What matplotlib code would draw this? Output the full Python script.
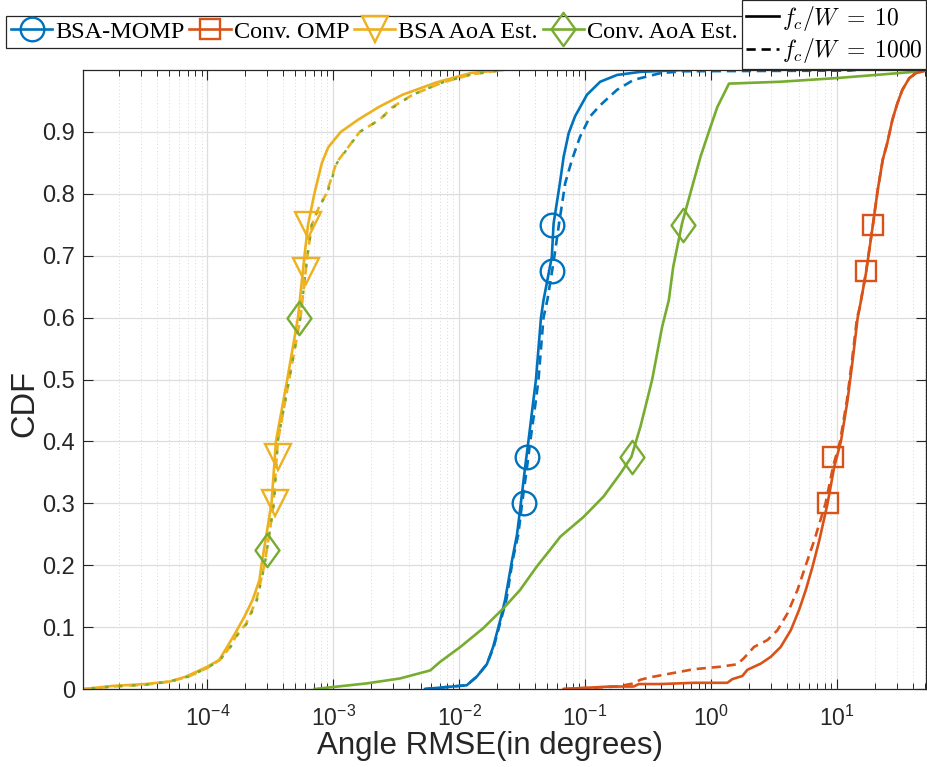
import numpy as np
import matplotlib
matplotlib.use("Agg")
import matplotlib.pyplot as plt
from matplotlib.path import Path
from matplotlib.lines import Line2D
from matplotlib.font_manager import FontProperties
from matplotlib.ticker import FixedLocator, LogLocator, NullFormatter, FixedFormatter

plt.rcParams['font.family'] = ['Liberation Sans', 'DejaVu Sans']
plt.rcParams['mathtext.fontset'] = 'custom'
plt.rcParams['mathtext.rm'] = 'Liberation Sans'
plt.rcParams['mathtext.it'] = 'Liberation Sans:italic'

# ---------------- data (x given as log10 of RMSE in degrees) ----------------
# BSA-MOMP, fc/W = 10 (solid) and 1000 (dashed)
momp10_log = [-2.27, -2.0, -1.94, -1.86, -1.78, -1.73, -1.675, -1.635, -1.58, -1.54, -1.51, -1.475, -1.45, -1.41,
              -1.39, -1.35, -1.33, -1.264, -1.25, -1.20, -1.17, -1.13, -1.08, -0.985, -0.88, -0.746, -0.56, -0.22]
momp10_cdf = [0.0, 0.005, 0.006, 0.02, 0.04, 0.068, 0.11, 0.144, 0.208, 0.25, 0.30, 0.36, 0.40, 0.467,
              0.50, 0.60, 0.628, 0.698, 0.752, 0.817, 0.86, 0.898, 0.925, 0.96, 0.981, 0.992, 0.997, 1.0]
momp1000_log = [-2.27, -2.0, -1.94, -1.86, -1.78, -1.725, -1.67, -1.625, -1.575, -1.53, -1.50, -1.46, -1.435, -1.39,
                -1.37, -1.33, -1.30, -1.25, -1.21, -1.158, -1.104, -1.04, -0.96, -0.88, -0.746, -0.615, -0.40, -0.22,
                1.10, 1.15]
momp1000_cdf = [0.0, 0.005, 0.006, 0.02, 0.04, 0.068, 0.11, 0.144, 0.208, 0.25, 0.30, 0.36, 0.40, 0.467,
                0.50, 0.60, 0.628, 0.69, 0.747, 0.817, 0.855, 0.892, 0.925, 0.943, 0.968, 0.984, 0.995, 0.998,
                0.999, 1.0]

# Conv. OMP
omp10_log = [-1.17, -0.80, -0.614, -0.574, -0.40, -0.136, 0.13, 0.17, 0.249, 0.289, 0.395, 0.475, 0.554, 0.634,
             0.70, 0.753, 0.807, 0.86, 0.926, 0.979, 1.032, 1.085, 1.125, 1.165, 1.18, 1.231, 1.284, 1.324, 1.364,
             1.40, 1.44, 1.48, 1.52, 1.575, 1.63, 1.72]
omp10_cdf = [0.0, 0.004, 0.004, 0.008, 0.008, 0.01, 0.01, 0.016, 0.021, 0.031, 0.041, 0.052, 0.068, 0.095,
             0.128, 0.16, 0.198, 0.24, 0.30, 0.359, 0.40, 0.467, 0.531, 0.60, 0.615, 0.672, 0.747, 0.806, 0.855,
             0.882, 0.919, 0.946, 0.968, 0.987, 0.995, 1.0]
omp1000_log = [-1.17, -0.746, -0.614, -0.56, -0.48, -0.348, -0.136, 0.076, 0.21, 0.262, 0.342, 0.448, 0.528, 0.607,
               0.687, 0.753, 0.82, 0.91, 0.97, 1.025, 1.08, 1.12, 1.16, 1.18, 1.23, 1.284, 1.324, 1.364, 1.40,
               1.44, 1.48, 1.52, 1.575, 1.63, 1.72]
omp1000_cdf = [0.0, 0.004, 0.009, 0.015, 0.019, 0.024, 0.032, 0.036, 0.04, 0.05, 0.068, 0.079, 0.095, 0.122,
               0.16, 0.20, 0.24, 0.30, 0.36, 0.40, 0.467, 0.531, 0.60, 0.615, 0.672, 0.747, 0.806, 0.855, 0.882,
               0.919, 0.946, 0.968, 0.987, 0.995, 1.0]

# BSA AoA Est.
bsa10_log = [-4.98, -4.75, -4.49, -4.30, -4.17, -4.00, -3.905, -3.825, -3.77, -3.705, -3.64, -3.586, -3.57, -3.55,
             -3.49, -3.455, -3.365, -3.28, -3.228, -3.20, -3.15, -3.09, -3.04, -2.94, -2.80, -2.64, -2.45,
             -2.18, -1.91, -1.65]
bsa10_cdf = [0.0, 0.005, 0.008, 0.012, 0.02, 0.036, 0.047, 0.074, 0.093, 0.117, 0.144, 0.176, 0.20, 0.225,
             0.30, 0.40, 0.50, 0.60, 0.70, 0.75, 0.80, 0.85, 0.875, 0.90, 0.92, 0.94, 0.96, 0.98, 0.995, 1.0]
bsa1000_log = [-4.98, -4.75, -4.49, -4.30, -4.15, -4.00, -3.90, -3.82, -3.77, -3.69, -3.61, -3.547, -3.50, -3.475,
               -3.44, -3.35, -3.26, -3.205, -3.17, -3.11, -3.055, -2.975, -2.79, -2.63, -2.53, -2.37, -2.13, -1.90,
               -1.65]
bsa1000_cdf = [0.0, 0.004, 0.007, 0.012, 0.02, 0.034, 0.047, 0.068, 0.086, 0.106, 0.144, 0.20, 0.26, 0.30,
               0.40, 0.50, 0.60, 0.70, 0.75, 0.78, 0.80, 0.85, 0.90, 0.92, 0.94, 0.96, 0.98, 0.993, 1.0]

# Conv. AoA Est.
conv10_log = [-3.148, -2.736, -2.47, -2.23, -2.15, -1.99, -1.81, -1.65, -1.516, -1.383, -1.277, -1.197, -1.012,
              -0.853, -0.72, -0.632, -0.56, -0.507, -0.467, -0.428, -0.388, -0.335, -0.30, -0.23, -0.15, -0.083,
              -0.004, 0.05, 0.143, 0.55, 1.0, 1.615, 1.71]
conv10_cdf = [0.0, 0.009, 0.017, 0.03, 0.044, 0.068, 0.098, 0.13, 0.16, 0.198, 0.225, 0.246, 0.278,
              0.311, 0.348, 0.375, 0.424, 0.467, 0.50, 0.542, 0.585, 0.628, 0.682, 0.752, 0.811, 0.86,
              0.908, 0.94, 0.978, 0.981, 0.987, 0.997, 1.0]
conv1000_log = [-4.98, -4.75, -4.49, -4.30, -4.15, -4.00, -3.90, -3.815, -3.765, -3.685, -3.605, -3.545, -3.50,
                -3.47, -3.44, -3.35, -3.26, -3.205, -3.17, -3.11, -3.05, -2.97, -2.79, -2.63, -2.52, -2.37, -2.13,
                -1.90, -1.65]
conv1000_cdf = [0.0, 0.004, 0.007, 0.012, 0.02, 0.034, 0.047, 0.068, 0.086, 0.106, 0.144, 0.20, 0.26, 0.30,
                0.40, 0.50, 0.60, 0.70, 0.75, 0.78, 0.80, 0.85, 0.90, 0.92, 0.94, 0.96, 0.98, 0.993, 1.0]

# marker positions
momp_mk_log = [-1.484, -1.460, -1.261, -1.261]
momp_mk_cdf = [0.30, 0.375, 0.675, 0.75]
omp_mk_log = [0.928, 0.968, 1.231, 1.287]
omp_mk_cdf = [0.30, 0.375, 0.675, 0.75]
bsa_mk_log = [-3.459, -3.435, -3.22, -3.204]
bsa_mk_cdf = [0.30, 0.375, 0.675, 0.75]
conv_mk_log = [-3.522, -3.268, -0.624, -0.226]
conv_mk_cdf = [0.225, 0.60, 0.375, 0.75]

legend_labels = ['BSA-MOMP', 'Conv. OMP', 'BSA AoA Est.', 'Conv. AoA Est.']
fcw_labels = [r'$f_c/W\;=\;10$', r'$f_c/W\;=\;1000$']
xtick_exps = [-4, -3, -2, -1, 0, 1]
ytick_vals = [0, 0.1, 0.2, 0.3, 0.4, 0.5, 0.6, 0.7, 0.8, 0.9]

# ---------------- style ----------------
BLUE = '#0072BD'
ORANGE = '#D95319'
YELLOW = '#EDB120'
GREEN = '#77AC30'
LW = 1.9
DASH = (0, (3.5, 2.2))
diamond = Path([(0, 1), (0.72, 0), (0, -1), (-0.72, 0), (0, 1)],
               [Path.MOVETO, Path.LINETO, Path.LINETO, Path.LINETO, Path.CLOSEPOLY])

fig = plt.figure(figsize=(9.28, 7.67), dpi=100)
ax = fig.add_axes([83 / 928, 1 - 689 / 767, (926 - 83) / 928, (689 - 70) / 767])


def p10(a):
    return np.power(10.0, np.asarray(a))


ax.plot(p10(bsa10_log), bsa10_cdf, color=YELLOW, lw=LW, ls='-')
ax.plot(p10(bsa1000_log), bsa1000_cdf, color=YELLOW, lw=LW, ls=DASH)
ax.plot(p10(conv1000_log), conv1000_cdf, color=GREEN, lw=LW * 0.9, ls=(2.5, (1.5, 4.2)))
ax.plot(p10(momp10_log), momp10_cdf, color=BLUE, lw=LW, ls='-')
ax.plot(p10(momp1000_log), momp1000_cdf, color=BLUE, lw=LW, ls=DASH)
ax.plot(p10(conv10_log), conv10_cdf, color=GREEN, lw=LW, ls='-')
ax.plot(p10(omp10_log), omp10_cdf, color=ORANGE, lw=LW, ls='-')
ax.plot(p10(omp1000_log), omp1000_cdf, color=ORANGE, lw=LW, ls=DASH)

mk_kw = dict(ls='none', mfc='none', mew=1.7)
ax.plot(p10(momp_mk_log), momp_mk_cdf, marker='o', ms=17, mec=BLUE, **mk_kw)
ax.plot(p10(omp_mk_log), omp_mk_cdf, marker='s', ms=14.5, mec=ORANGE, **mk_kw)
ax.plot(p10(bsa_mk_log), bsa_mk_cdf, marker='v', ms=19, mec=YELLOW, **mk_kw)
ax.plot(p10(conv_mk_log), conv_mk_cdf, marker=diamond, ms=24, mec=GREEN, **mk_kw)

ax.set_xscale('log')
ax.set_xlim(1.03e-5, 51)
ax.set_ylim(0, 1.0)

ax.xaxis.set_major_locator(FixedLocator([10.0 ** e for e in xtick_exps]))
ax.xaxis.set_major_formatter(FixedFormatter([r'$\mathregular{10^{%d}}$' % e for e in xtick_exps]))
ax.xaxis.set_minor_locator(LogLocator(base=10, subs=np.arange(2, 10), numticks=20))
ax.xaxis.set_minor_formatter(NullFormatter())
ax.set_yticks(ytick_vals)
ax.set_yticklabels(['0' if v == 0 else '%.1f' % v for v in ytick_vals])

ax.grid(True, which='major', color='#dedede', lw=0.9, ls='-')
ax.grid(True, which='minor', axis='x', color='#d8d8d8', lw=0.7, ls=(0, (1, 2.5)))
ax.set_axisbelow(True)
ax.tick_params(which='both', direction='in', top=True, right=True, colors='#262626')
ax.tick_params(axis='y', labelsize=17, pad=5.5)
ax.tick_params(axis='x', labelsize=16.5, pad=12)
ax.tick_params(which='major', length=7, width=0.8)
ax.tick_params(which='minor', length=4, width=0.7)
for s in ax.spines.values():
    s.set_color('#262626')
    s.set_linewidth(0.9)

ax.set_xlabel('Angle RMSE(in degrees)', fontsize=22.5, color='#262626', labelpad=0)
ax.xaxis.set_label_coords(0.483, -0.068)
ax.set_ylabel('CDF', fontsize=23.5, color='#262626')
ax.yaxis.set_label_coords(-0.051, 0.462)

# legend 1 (methods)
handles = [
    Line2D([], [], color=BLUE, lw=LW, marker='o', ms=17, mfc='none', mew=1.7),
    Line2D([], [], color=ORANGE, lw=LW, marker='s', ms=14.5, mfc='none', mew=1.7),
    Line2D([], [], color=YELLOW, lw=LW, marker='v', ms=19, mfc='none', mew=1.7),
    Line2D([], [], color=GREEN, lw=LW, marker=diamond, ms=24, mfc='none', mew=1.7),
]
leg1 = fig.legend(handles, legend_labels, loc='upper left', bbox_to_anchor=(6 / 928, 1 - 16 / 767),
                  ncol=4, prop=FontProperties(family='Liberation Serif', size=17.5),
                  frameon=True, fancybox=False, edgecolor='#262626', framealpha=1,
                  handlelength=1.7, handletextpad=0.12, columnspacing=0.2, borderpad=0.2,
                  borderaxespad=0)
leg1.get_frame().set_linewidth(0.9)

# legend 2 (fc/W)
h2 = [Line2D([], [], color='black', lw=LW, ls='-'),
      Line2D([], [], color='black', lw=LW, ls=DASH)]
leg2 = fig.legend(h2, fcw_labels, loc='upper left', bbox_to_anchor=(742 / 928, 1.0),
                  ncol=1, prop=FontProperties(family='Liberation Serif', size=17, math_fontfamily='cm'),
                  frameon=True, fancybox=False, edgecolor='#262626', framealpha=1,
                  handlelength=1.4, handletextpad=0.15, borderpad=0.15, labelspacing=0.15,
                  borderaxespad=0)
leg2.get_frame().set_linewidth(0.9)

fig.savefig('out.png', dpi=100)
